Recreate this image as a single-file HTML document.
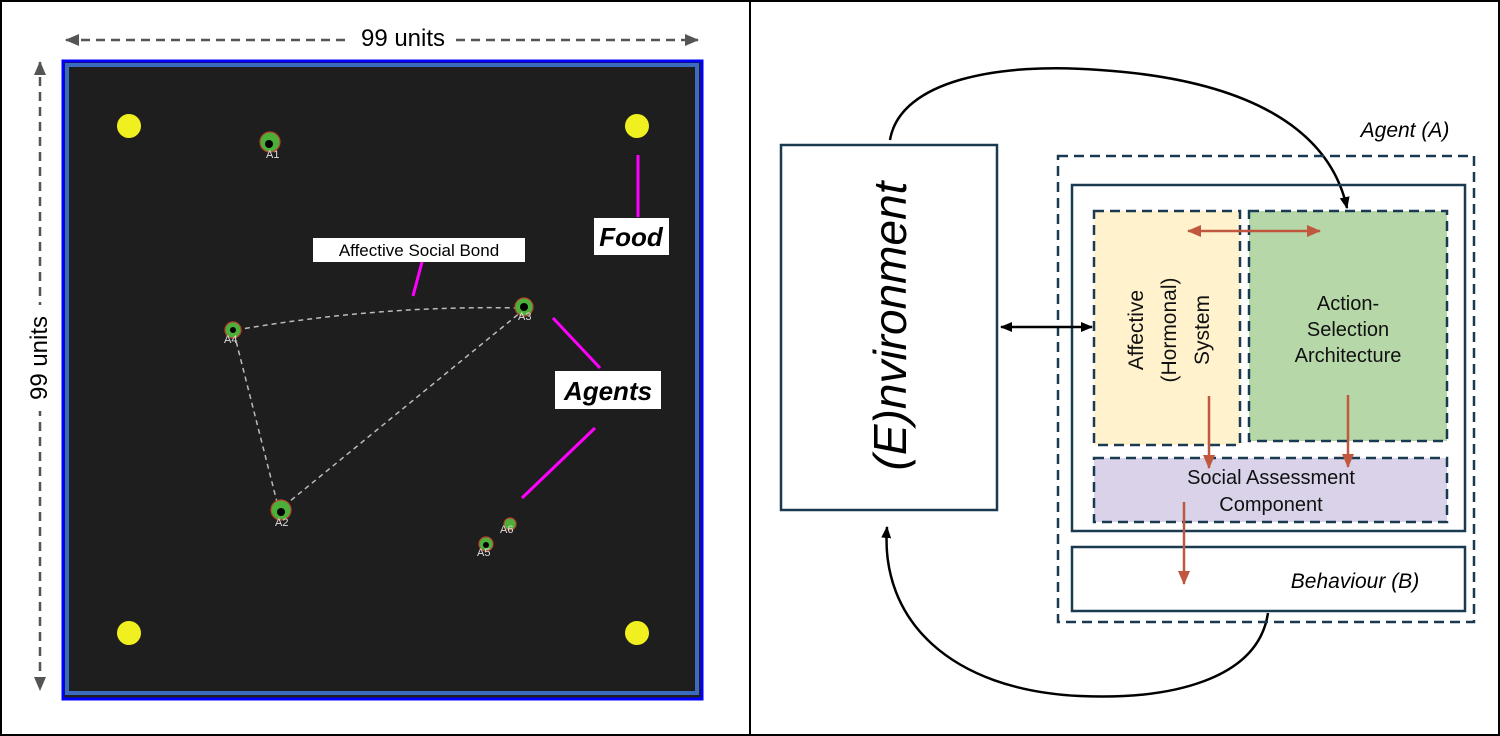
<!DOCTYPE html>
<html><head><meta charset="utf-8"><style>
html,body{margin:0;padding:0;background:#fff;width:1500px;height:736px;overflow:hidden}
svg{display:block;font-family:"Liberation Sans",Arial,sans-serif}
</style></head><body>
<svg width="1500" height="736" viewBox="0 0 1500 736" xmlns="http://www.w3.org/2000/svg">
<defs>
<marker id="ga" markerWidth="14" markerHeight="14" refX="13" refY="7" orient="auto-start-reverse" markerUnits="userSpaceOnUse" viewBox="0 0 14 14"><path d="M0,1 L14,7 L0,13 z" fill="#555"/></marker>
<marker id="ba" markerWidth="12" markerHeight="12" refX="11" refY="6" orient="auto-start-reverse" markerUnits="userSpaceOnUse" viewBox="0 0 12 12"><path d="M0,1 L12,6 L0,11 z" fill="#000"/></marker>
<marker id="ra" markerWidth="14" markerHeight="14" refX="13" refY="7" orient="auto-start-reverse" markerUnits="userSpaceOnUse" viewBox="0 0 14 14"><path d="M0,1 L14,7 L0,13 z" fill="#c0583f"/></marker>
</defs>
<rect x="1" y="1" width="1498" height="734" fill="#fff" stroke="#000" stroke-width="2"/>
<line x1="750" y1="0" x2="750" y2="736" stroke="#000" stroke-width="2"/>

<!-- left panel -->
<line x1="66" y1="40" x2="698" y2="40" stroke="#555" stroke-width="2.5" stroke-dasharray="9,6" marker-start="url(#ga)" marker-end="url(#ga)"/>
<rect x="349" y="26" width="106" height="28" fill="#fff"/>
<text x="403" y="46" font-size="24" text-anchor="middle" fill="#000">99 units</text>
<line x1="40" y1="62" x2="40" y2="690" stroke="#555" stroke-width="2.5" stroke-dasharray="9,6" marker-start="url(#ga)" marker-end="url(#ga)"/>
<rect x="26" y="305" width="28" height="106" fill="#fff"/>
<text transform="translate(47,358) rotate(-90)" font-size="24" text-anchor="middle" fill="#000">99 units</text>

<rect x="63" y="61" width="639" height="638" fill="#1e1e1e" stroke="#0000ff" stroke-width="3"/>
<rect x="67" y="65" width="630" height="628" fill="none" stroke="#3a6bbf" stroke-width="4"/>

<g fill="#f0f020">
<circle cx="129" cy="126" r="12"/><circle cx="637" cy="126" r="12"/>
<circle cx="129" cy="633" r="12"/><circle cx="637" cy="633" r="12"/>
</g>
<g stroke="#bbb" stroke-width="1.5" stroke-dasharray="5,4" fill="none">
<path d="M236,330 Q380,305 520,308"/>
<line x1="234" y1="333" x2="278" y2="506"/>
<line x1="284" y1="506" x2="521" y2="312"/>
</g>
<g stroke="#b5452f" stroke-width="1.2" fill="#4caf3a">
<circle cx="270" cy="142" r="10"/><circle cx="233" cy="330" r="8"/>
<circle cx="524" cy="307" r="9"/><circle cx="281" cy="510" r="10"/>
<circle cx="510" cy="524" r="6"/><circle cx="486" cy="544" r="7"/>
</g>
<g fill="#000">
<circle cx="269" cy="144" r="4"/><circle cx="233" cy="330" r="3"/>
<circle cx="524" cy="307" r="4"/><circle cx="281" cy="512" r="4"/>
<circle cx="486" cy="545" r="3"/>
</g>
<g fill="#ddd" font-size="11">
<text x="266" y="158">A1</text><text x="224" y="343">A4</text><text x="518" y="320">A3</text>
<text x="275" y="526">A2</text><text x="500" y="533">A6</text><text x="477" y="556">A5</text>
</g>
<g stroke="#ff00ff" stroke-width="3">
<line x1="638" y1="155" x2="638" y2="217"/>
<line x1="422" y1="262" x2="413" y2="296"/>
<line x1="553" y1="318" x2="600" y2="368"/>
<line x1="595" y1="428" x2="522" y2="498"/>
</g>
<rect x="313" y="238" width="212" height="24" fill="#fff"/>
<text x="419" y="256" font-size="17" text-anchor="middle">Affective Social Bond</text>
<rect x="594" y="218" width="75" height="37" fill="#fff"/>
<text x="631" y="246" font-size="26" font-weight="bold" font-style="italic" text-anchor="middle">Food</text>
<rect x="555" y="371" width="106" height="38" fill="#fff"/>
<text x="608" y="400" font-size="26" font-weight="bold" font-style="italic" text-anchor="middle">Agents</text>

<!-- right panel -->
<path d="M890,140 C900,80 1000,62 1100,70 C1250,80 1330,130 1347,208" fill="none" stroke="#000" stroke-width="2.5" marker-end="url(#ba)"/>
<path d="M1268,613 C1258,680 1170,700 1080,696 C950,690 880,620 887,527" fill="none" stroke="#000" stroke-width="2.5" marker-end="url(#ba)"/>

<rect x="781" y="145" width="216" height="365" fill="#fff" stroke="#1a3a52" stroke-width="2.5"/>
<text transform="translate(906,326) rotate(-90)" font-size="46" font-style="italic" text-anchor="middle">(E)nvironment</text>

<rect x="1058" y="156" width="416" height="466" fill="none" stroke="#1a3a52" stroke-width="2.5" stroke-dasharray="10,6"/>
<text x="1405" y="137" font-size="21" font-style="italic" text-anchor="middle">Agent (A)</text>
<rect x="1072" y="185" width="393" height="346" fill="none" stroke="#1a3a52" stroke-width="2.5"/>
<rect x="1094" y="211" width="146" height="234" fill="#fff2cc" stroke="#1a3a52" stroke-width="2.5" stroke-dasharray="10,6"/>
<rect x="1249" y="211" width="198" height="230" fill="#b6d7a8" stroke="#1a3a52" stroke-width="2.5" stroke-dasharray="10,6"/>
<rect x="1094" y="458" width="353" height="64" fill="#d9d2e9" stroke="#1a3a52" stroke-width="2.5" stroke-dasharray="10,6"/>
<rect x="1072" y="547" width="393" height="64" fill="#fff" stroke="#1a3a52" stroke-width="2.5"/>

<g font-size="20" text-anchor="middle" fill="#111">
<g transform="translate(1167,330) rotate(-90)">
<text x="0" y="-24" font-size="21">Affective</text><text x="0" y="9" font-size="21">(Hormonal)</text><text x="0" y="42" font-size="21">System</text>
</g>
<text x="1348" y="310">Action-</text>
<text x="1348" y="336">Selection</text>
<text x="1348" y="362">Architecture</text>
<text x="1271" y="484">Social Assessment</text>
<text x="1271" y="511">Component</text>
</g>
<text x="1355" y="588" font-size="21" font-style="italic" text-anchor="middle">Behaviour (B)</text>

<line x1="1001" y1="327" x2="1092" y2="327" stroke="#000" stroke-width="2.5" marker-start="url(#ba)" marker-end="url(#ba)"/>
<g stroke="#c0583f" stroke-width="2.5" fill="none">
<line x1="1188" y1="231" x2="1320" y2="231" marker-start="url(#ra)" marker-end="url(#ra)"/>
<line x1="1209" y1="396" x2="1209" y2="468" marker-end="url(#ra)"/>
<line x1="1348" y1="395" x2="1348" y2="467" marker-end="url(#ra)"/>
<line x1="1184" y1="502" x2="1184" y2="584" marker-end="url(#ra)"/>
</g>
</svg>
</body></html>
